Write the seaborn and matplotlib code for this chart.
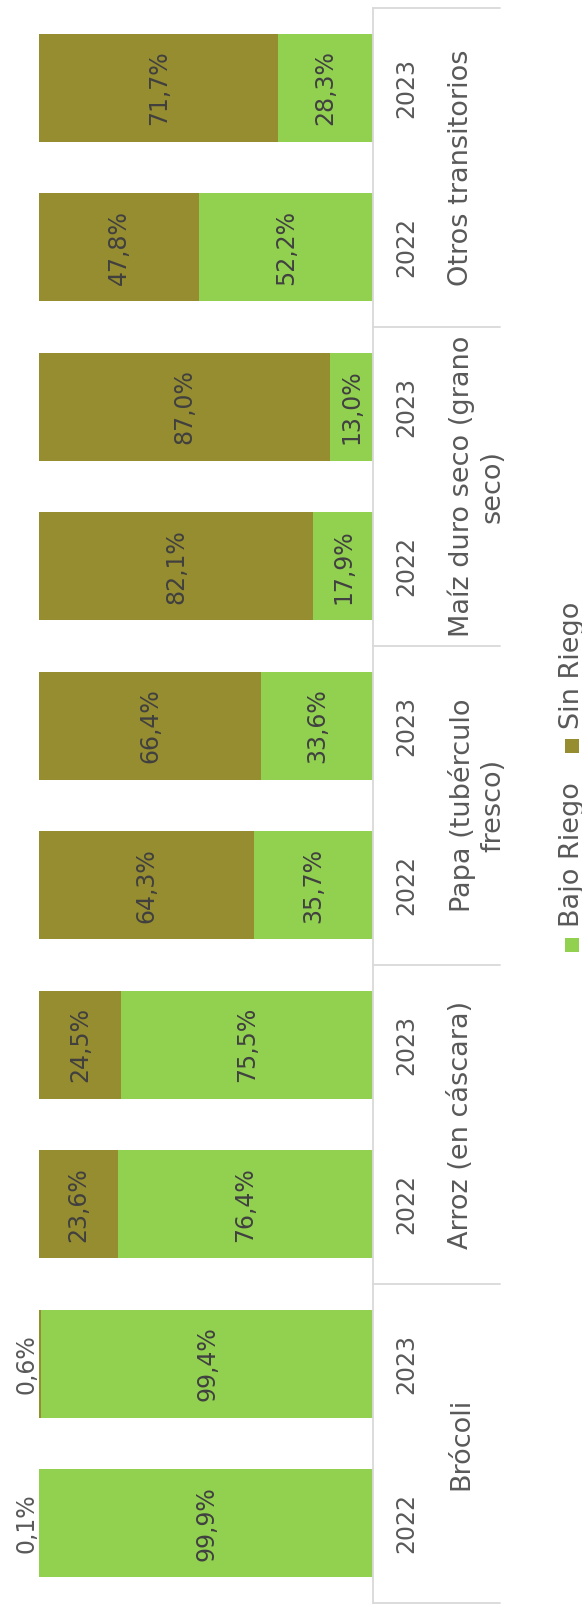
import numpy as np
import pandas as pd
import matplotlib
matplotlib.use("Agg")
import matplotlib.pyplot as plt
from matplotlib.patches import Rectangle
from matplotlib.lines import Line2D
import seaborn as sns

# ---- data -------------------------------------------------------------
crops = ["Brócoli", "Arroz (en cáscara)", "Papa (tubérculo\nfresco)",
         "Maíz duro seco (grano\nseco)", "Otros transitorios"]
years = ["2022", "2023"]
series = ["Bajo Riego", "Sin Riego"]
# one value per crop/year, in the order Brócoli 2022, Brócoli 2023, Arroz 2022, ...
bajo_riego = [99.9, 99.4, 76.4, 75.5, 35.7, 33.6, 17.9, 13.0, 52.2, 28.3]
sin_riego = [0.1, 0.6, 23.6, 24.5, 64.3, 66.4, 82.1, 87.0, 47.8, 71.7]

colors = {"Bajo Riego": "#92D050", "Sin Riego": "#968C30"}

rows = []
for i, crop in enumerate(crops):
    for j, yr in enumerate(years):
        k = 2 * i + j
        rows.append({"slot": f"{crop} | {yr}", "crop": crop, "year": yr,
                     "bajo": bajo_riego[k], "sin": sin_riego[k],
                     "total": bajo_riego[k] + sin_riego[k]})
df = pd.DataFrame(rows)
order = list(df["slot"])[::-1]          # last crop on top
df = df.set_index("slot").loc[order].reset_index()

# ---- figure -----------------------------------------------------------
sns.set_style("white")
plt.rcParams["font.family"] = ["DejaVu Sans", "Noto Sans"]

W, H = 582, 1605
fig = plt.figure(figsize=(W / 100, H / 100), dpi=100)
ax = fig.add_axes([39 / W, (H - 1603) / H, (373 - 39) / W, (1603 - 8) / H])

# stacked bars: full height in olive, irrigated share drawn over it
sns.barplot(data=df, x="total", y="slot", order=order, orient="h",
            color=colors["Sin Riego"], saturation=1, width=0.68,
            linewidth=0, ax=ax)
sns.barplot(data=df, x="bajo", y="slot", order=order, orient="h",
            color=colors["Bajo Riego"], saturation=1, width=0.68,
            linewidth=0, ax=ax)

ax.set_xlim(100, 0)
ax.set_ylim(len(order) - 0.5, -0.5)
ax.set_xlabel("")
ax.set_ylabel("")
ax.set_xticks([])
for side in ["left", "top", "bottom"]:
    ax.spines[side].set_visible(False)
ax.spines["right"].set_color("#D9D9D9")
ax.spines["right"].set_linewidth(1.3)

# year tick labels on the category axis
ax.yaxis.tick_right()
ax.set_yticks(range(len(order)))
ax.set_yticklabels(df["year"], rotation=90, fontsize=17, color="#595959",
                   va="center")
ax.tick_params(axis="y", length=0, pad=15.5)

fmt = lambda v: f"{v:.1f}".replace(".", ",") + "%"

# value labels
for pos, r in df.iterrows():
    ax.text(r["bajo"] / 2, pos, fmt(r["bajo"]), rotation=90, ha="center",
            va="center", fontsize=17, color="#404040")
    if r["sin"] >= 5:
        ax.text(r["bajo"] + r["sin"] / 2, pos, fmt(r["sin"]), rotation=90,
                ha="center", va="center", fontsize=17, color="#404040")
    else:
        ax.annotate(fmt(r["sin"]), xy=(r["total"], pos), xytext=(-1, 0),
                    textcoords="offset pixels", rotation=90, ha="right",
                    va="center", fontsize=17, color="#595959",
                    annotation_clip=False)

# crop group labels and separators
sep_end = (500 - 39) / (373 - 39)
lab_x = (448 - 39) / (373 - 39)
tr = ax.get_yaxis_transform()
for i, crop in enumerate(crops[::-1]):
    center = 2 * i + 0.5
    ax.text(lab_x, center, crop, transform=tr, rotation=90, ha="left",
            va="center", multialignment="center", fontsize=19.5,
            color="#595959", clip_on=False)
for b in np.arange(-0.5, len(order), 2):
    ax.add_line(Line2D([1, sep_end], [b, b], transform=tr, color="#D9D9D9",
                       lw=1.3, clip_on=False))

# legend, reading bottom to top
leg = [("Bajo Riego", 938, 927), ("Sin Riego", 739, 729)]
for name, sq_top, txt_bottom in leg:
    fig.add_artist(Rectangle((565 / W, 1 - (sq_top + 14) / H), 14 / W, 14 / H,
                             transform=fig.transFigure,
                             facecolor=colors[name], edgecolor="none"))
    fig.text(572 / W, 1 - txt_bottom / H, name, rotation=90, ha="center",
             va="bottom", fontsize=19.5, color="#595959")

fig.savefig("out.png", dpi=100)
